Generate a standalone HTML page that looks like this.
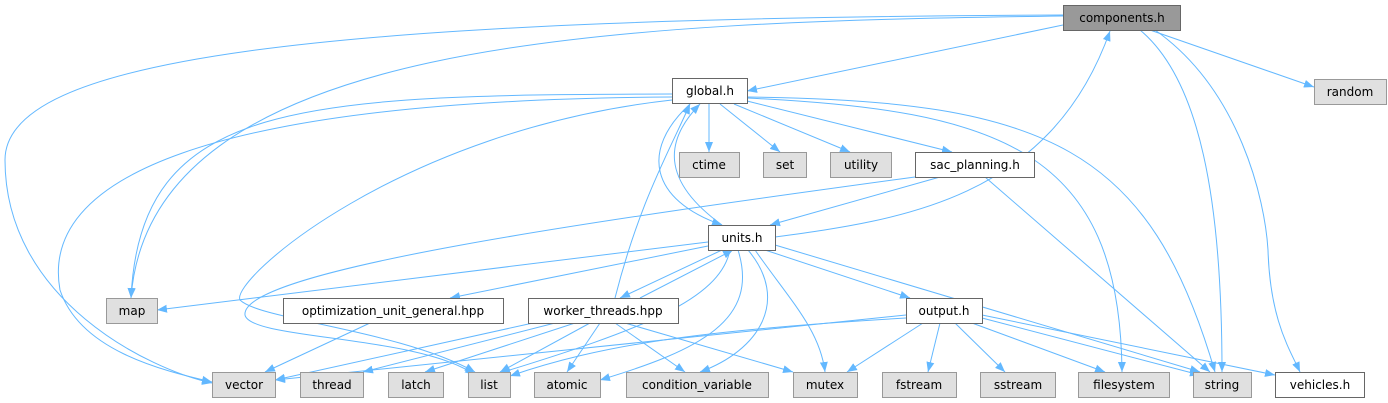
<!DOCTYPE html>
<html><head><meta charset="utf-8"><style>
body{margin:0;background:#fff;width:1388px;height:403px;overflow:hidden}
svg{display:block}
text{font-family:"DejaVu Sans","Liberation Sans",sans-serif;font-size:12px;text-anchor:middle}
.e{fill:none;stroke:#63b8ff;stroke-width:1}
.w{fill:#fff;stroke:#666}
.g{fill:#e0e0e0;stroke:#999}
</style></head><body>
<svg width="1388" height="403" viewBox="0 0 1388 403">
<defs><marker id="a" viewBox="0 0 10 10" refX="10" refY="5" markerWidth="10" markerHeight="10" markerUnits="userSpaceOnUse" orient="auto"><path d="M0,1 L10,5 L0,9 z" fill="#63b8ff"/></marker></defs>
<g class="e" marker-end="url(#a)">
<path d="M1063,25 L747,91"/>
<path d="M1063,16 C600,22 150,40 131,298"/>
<path d="M1063,15 C300,18 5,60 5,160 C5,300 150,370 212,383"/>
<path d="M1150,30 L1314,87"/>
<path d="M1140,30 C1200,80 1222,200 1222,372"/>
<path d="M1155,30 C1240,90 1265,200 1268,250 C1270,320 1290,350 1300,372"/>
<path d="M775,237 C900,220 1050,200 1110,31"/>
<path d="M709,104 L709,152"/>
<path d="M720,104 L780,152"/>
<path d="M734,104 L850,152"/>
<path d="M747,101 L952,152"/>
<path d="M672,94 C300,95 140,100 131,298"/>
<path d="M672,97 C200,100 40,180 60,290 C80,350 160,370 212,382"/>
<path d="M672,100 C400,130 230,280 240,300 C260,320 400,330 475,372"/>
<path d="M690,104 C640,150 650,200 722,225"/>
<path d="M747,98 C1000,110 1120,150 1122,372"/>
<path d="M747,97 C1050,100 1150,150 1215,372"/>
<path d="M940,177 L770,225"/>
<path d="M915,177 C600,220 240,270 245,315 C250,340 420,335 475,375"/>
<path d="M985,177 L1210,372"/>
<path d="M722,225 C660,180 665,140 700,104"/>
<path d="M708,242 L157,310"/>
<path d="M708,246 L450,298"/>
<path d="M722,250 L620,298"/>
<path d="M640,298 L733,250"/>
<path d="M765,250 L910,298"/>
<path d="M730,250 C720,300 640,330 500,373"/>
<path d="M738,250 C760,320 700,350 600,380"/>
<path d="M748,250 C790,300 760,350 700,372"/>
<path d="M755,250 C790,300 820,330 825,372"/>
<path d="M775,245 L1200,372"/>
<path d="M615,298 C640,200 670,150 690,104"/>
<path d="M533,323 L275,380"/>
<path d="M555,323 L363,372"/>
<path d="M575,323 L425,372"/>
<path d="M590,323 L500,372"/>
<path d="M600,323 L567,372"/>
<path d="M615,323 L685,372"/>
<path d="M625,323 L793,372"/>
<path d="M370,323 L265,372"/>
<path d="M906,315 L275,380"/>
<path d="M906,318 C700,330 600,345 510,376"/>
<path d="M923,323 L847,372"/>
<path d="M940,323 L928,372"/>
<path d="M955,323 L1005,372"/>
<path d="M972,323 L1105,372"/>
<path d="M982,318 L1200,375"/>
<path d="M982,315 L1275,375"/>
</g>
<rect x="1063.5" y="5.5" width="117" height="25" fill="#999" stroke="#666"/><text x="1122" y="22">components.h</text>
<rect class="w" x="672.5" y="78.5" width="75" height="25"/><text x="710" y="95">global.h</text>
<rect class="g" x="1314.5" y="79.5" width="72" height="25"/><text x="1350" y="96">random</text>
<rect class="g" x="679.5" y="152.5" width="60" height="25"/><text x="709" y="169">ctime</text>
<rect class="g" x="763.5" y="152.5" width="43" height="25"/><text x="785" y="169">set</text>
<rect class="g" x="830.5" y="152.5" width="61" height="25"/><text x="861" y="169">utility</text>
<rect class="w" x="915.5" y="152.5" width="119" height="25"/><text x="975" y="169">sac_planning.h</text>
<rect class="w" x="708.5" y="225.5" width="67" height="25"/><text x="742" y="242">units.h</text>
<rect class="g" x="106.5" y="298.5" width="51" height="25"/><text x="132" y="315">map</text>
<rect class="w" x="283.5" y="298.5" width="220" height="25"/><text x="393" y="315">optimization_unit_general.hpp</text>
<rect class="w" x="528.5" y="298.5" width="150" height="25"/><text x="603" y="315">worker_threads.hpp</text>
<rect class="w" x="906.5" y="298.5" width="76" height="25"/><text x="944" y="315">output.h</text>
<rect class="g" x="212.5" y="372.5" width="63" height="25"/><text x="244" y="389">vector</text>
<rect class="g" x="300.5" y="372.5" width="63" height="25"/><text x="332" y="389">thread</text>
<rect class="g" x="388.5" y="372.5" width="55" height="25"/><text x="416" y="389">latch</text>
<rect class="g" x="468.5" y="372.5" width="42" height="25"/><text x="489" y="389">list</text>
<rect class="g" x="534.5" y="372.5" width="66" height="25"/><text x="567" y="389">atomic</text>
<rect class="g" x="626.5" y="372.5" width="142" height="25"/><text x="697" y="389">condition_variable</text>
<rect class="g" x="793.5" y="372.5" width="64" height="25"/><text x="825" y="389">mutex</text>
<rect class="g" x="882.5" y="372.5" width="74" height="25"/><text x="919" y="389">fstream</text>
<rect class="g" x="980.5" y="372.5" width="75" height="25"/><text x="1018" y="389">sstream</text>
<rect class="g" x="1078.5" y="372.5" width="91" height="25"/><text x="1124" y="389">filesystem</text>
<rect class="g" x="1193.5" y="372.5" width="58" height="25"/><text x="1222" y="389">string</text>
<rect class="w" x="1275.5" y="372.5" width="89" height="25"/><text x="1320" y="389">vehicles.h</text>
</svg>
</body></html>
